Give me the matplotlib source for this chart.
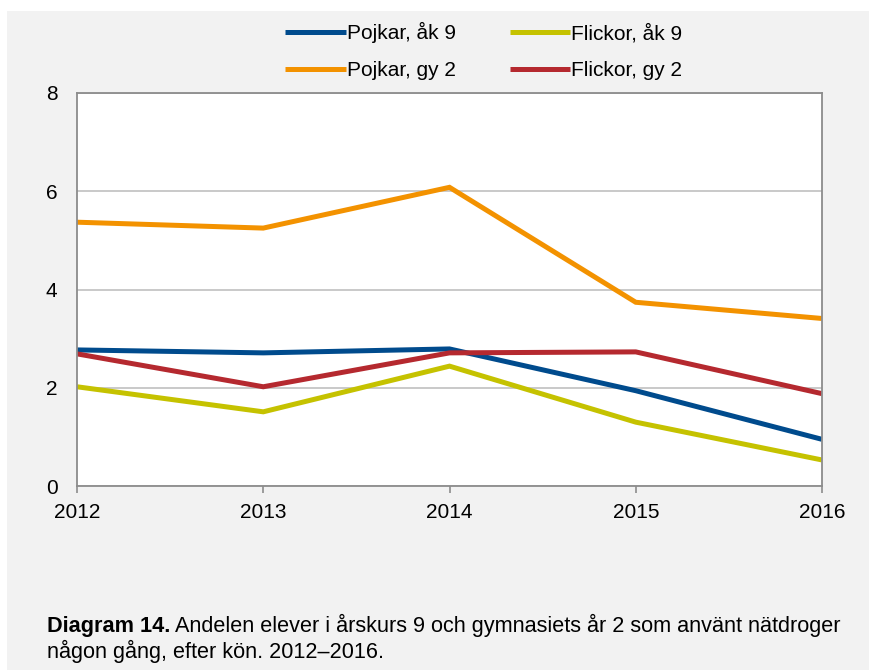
import matplotlib
matplotlib.use("Agg")
import matplotlib.pyplot as plt
from matplotlib.patches import Rectangle

plt.rcParams['font.family'] = ['Liberation Sans', 'DejaVu Sans']

years = [2012, 2013, 2014, 2015, 2016]
pojkar_ak9 = [2.77, 2.71, 2.79, 1.94, 0.95]
flickor_ak9 = [2.02, 1.51, 2.44, 1.30, 0.53]
pojkar_gy2 = [5.37, 5.25, 6.08, 3.74, 3.41]
flickor_gy2 = [2.69, 2.02, 2.71, 2.73, 1.88]

series = [
    ("Pojkar, åk 9", pojkar_ak9, "#004B8D"),
    ("Pojkar, gy 2", pojkar_gy2, "#F39200"),
    ("Flickor, åk 9", flickor_ak9, "#C5C200"),
    ("Flickor, gy 2", flickor_gy2, "#B5292F"),
]
yticks = [0, 2, 4, 6, 8]

W, H = 869, 670
fig = plt.figure(figsize=(W / 100, H / 100), dpi=100, facecolor="white")
fig.patches.append(Rectangle((7 / W, 0), 1 - 7 / W, 1 - 11 / H, transform=fig.transFigure,
                             facecolor="#F2F2F2", edgecolor="none", zorder=-10))

ax = fig.add_axes([77 / W, 1 - 486 / H, (822 - 77) / W, (486 - 93) / H])
ax.set_facecolor("white")
handles = {}
for name, vals, col in series:
    ln, = ax.plot(years, vals, color=col, lw=3.6, solid_capstyle="butt", solid_joinstyle="miter", label=name)
    handles[name] = ln

ax.set_xlim(2012, 2016)
ax.set_ylim(0, 8)
ax.set_xticks(years)
ax.set_yticks(yticks)
ax.set_xticklabels([str(y) for y in years], fontsize=15)
ax.set_yticklabels([str(v) for v in yticks], fontsize=15)
ax.grid(axis="y", color="#C0C0C0", lw=1.2)
ax.set_axisbelow(True)
for s in ax.spines.values():
    s.set_color("#8C8C8C")
    s.set_linewidth(1.3)
ax.tick_params(axis="x", length=5, width=1.2, color="#8C8C8C", pad=7)
ax.tick_params(axis="y", length=0, pad=14)

order = ["Pojkar, åk 9", "Pojkar, gy 2", "Flickor, åk 9", "Flickor, gy 2"]
leg = fig.legend([handles[o] for o in order], order, ncol=2, loc="center",
                 bbox_to_anchor=(484 / W, 1 - 51 / H), frameon=False, fontsize=15,
                 handlelength=2.9, handletextpad=0.05, columnspacing=2.6, labelspacing=0.85)

fs = 15.6
y1 = 1 - 632 / H
y2 = 1 - 658 / H
t1 = fig.text(47 / W, y1, "Diagram 14.", fontsize=fs, fontweight="bold", va="baseline", ha="left")
fig.canvas.draw()
bb = t1.get_window_extent()
x2 = (bb.x1 + 5) / W
fig.text(x2, y1, "Andelen elever i årskurs 9 och gymnasiets år 2 som använt nätdroger",
         fontsize=fs, va="baseline", ha="left")
fig.text(47 / W, y2, "någon gång, efter kön. 2012–2016.", fontsize=fs, va="baseline", ha="left")

fig.savefig("out.png", dpi=100, facecolor=fig.get_facecolor())
